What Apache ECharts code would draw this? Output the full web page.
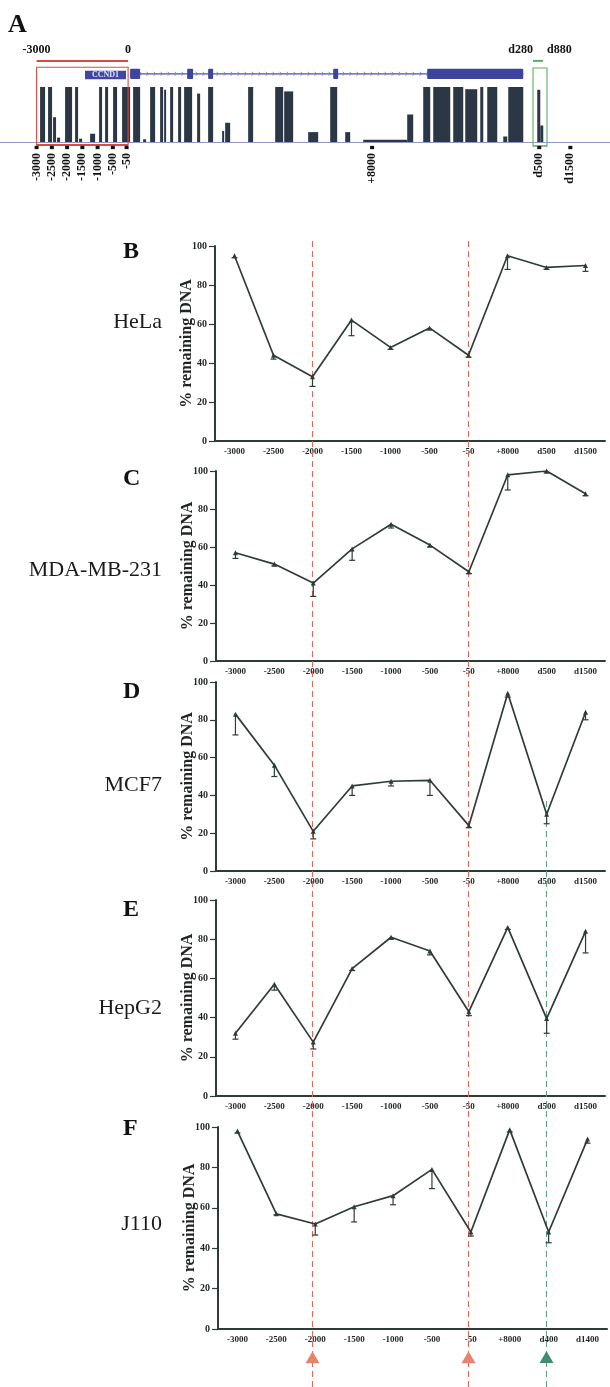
<!DOCTYPE html>
<html><head><meta charset="utf-8">
<script src="https://cdn.jsdelivr.net/npm/echarts@6/dist/echarts.min.js"></script>
<style>html,body{margin:0;padding:0;background:#fff}#c{width:610px;height:1387px}</style>
</head><body><div id="c"></div>
<script>
// ---------- Data: panels B–F ----------
const categories  = ['-3000','-2500','-2000','-1500','-1000','-500','-50','+8000','d500','d1500'];
const categoriesF = ['-3000','-2500','-2000','-1500','-1000','-500','-50','+8000','d400','d1400'];
const yTickValues = [0, 20, 40, 60, 80, 100];

const helaValues  = [95, 44, 33, 62, 48, 58, 44, 95, 89, 90];
const helaLower   = [94, 42, 28, 54, 47, 57, 43, 88, 88, 87];
const mdaValues   = [57, 51, 41, 59, 72, 61, 47, 98, 100, 88];
const mdaLower    = [54, 50, 34, 53, 70, 60, 46, 90, 99, 87];
const mcf7Values  = [83, 56, 21, 45, 47.5, 48, 24, 94, 30, 84];
const mcf7Lower   = [72, 50, 17, 40, 45, 40, 23, 92, 25, 80];
const hepg2Values = [32, 57, 27.5, 65, 81, 74, 43, 86, 39.5, 84];
const hepg2Lower  = [29, 54, 24, 64, 80, 72, 41, 85, 32, 73];
const j110Values  = [98, 57, 52, 60.5, 66, 79, 48, 98.7, 48, 94];
const j110Lower   = [97, 56.5, 46.5, 53, 61.5, 69.5, 46, 97.5, 42.7, 92];

const panelLetters = ['B', 'C', 'D', 'E', 'F'];
const cellLines    = ['HeLa', 'MDA-MB-231', 'MCF7', 'HepG2', 'J110'];
const redMarkedCats   = ['-2000', '-50'];
const greenMarkedCats = ['d500'];

// ---------- Data: panel A (positions in bp relative to TSS) ----------
// conservation blocks: [start bp, end bp, conservation %]
const consBars = [
  [-2886,-2722,100],[-2624,-2493,100],[-2460,-2362,45],[-2329,-2230,8],
  [-2066,-1837,100],[-1738,-1640,100],[-1607,-1509,6],[-1246,-1082,15],
  [-951,-853,100],[-754,-656,100],[-492,-361,100],[-197,66,100],
  [164,394,100],[492,590,5],[722,886,100],[1050,1148,100],[1181,1246,95],
  [1378,1476,100],[1640,1738,100],[1837,2099,100],[2263,2362,88],
  [2624,2788,100],[3083,3149,20],[3182,3346,35],[3936,4100,100],
  [4822,5084,100],[5117,5412,92],[5904,6232,18],[6626,6855,100],
  [7118,7282,18],[7708,9151,4],[9151,9348,50],[9676,9906,100],
  [10004,10562,100],[10660,10988,100],[11054,11447,96],[11546,11644,100],
  [11775,12103,100],[12300,12431,10],[12464,12956,100],
  [13415,13514,95],[13514,13612,30]
];
const geneSpan  = [66, 12956];
const geneExons = [[66,394],[1935,2132],[2624,2788],[6724,6888],[9807,12956]];
const geneName  = 'CCND1';
const geneLabelRange = [-1413, -69];
const regions = [[-3000, 0], [13276, 13735]];
const regionLabels = [[-3000,'-3000'],[0,'0'],[13276,'d280'],[13735,'d880']];
const trackTicks = [[-3000,'-3000'],[-2500,'-2500'],[-2000,'-2000'],[-1500,'-1500'],
  [-1000,'-1000'],[-500,'-500'],[-50,'-50'],[8000,'+8000'],[13480,'d500'],[14500,'d1500']];

// ---------- styles ----------
const SERIF = 'Liberation Serif, Times New Roman, serif';
const INK = '#2e3c37';
const RED = '#dc4b42', GREEN = '#5cae5f';
const regionColors = [RED, GREEN];

const panels = [
  {vals: helaValues,  low: helaLower,  cats: categories,  left: 215, top: 246, width: 390, height: 195},
  {vals: mdaValues,   low: mdaLower,   cats: categories,  left: 216, top: 471, width: 389, height: 190},
  {vals: mcf7Values,  low: mcf7Lower,  cats: categories,  left: 216, top: 682, width: 389, height: 189},
  {vals: hepg2Values, low: hepg2Lower, cats: categories,  left: 216, top: 900, width: 389, height: 196},
  {vals: j110Values,  low: j110Lower,  cats: categoriesF, left: 218, top: 1127, width: 389, height: 202}
];

const grid = [], xAxis = [], yAxis = [], series = [], graphic = [];

// ---------- Panel A ----------
grid.push({left: 0, width: 610, top: 51.25, height: 134.75});
xAxis.push({type: 'value', gridIndex: 0, min: -4200, max: 15800, axisLabel: {show: false},
  axisTick: {show: false}, splitLine: {show: false},
  axisLine: {show: true, onZero: true, lineStyle: {color: '#9097c4', width: 1}}});
yAxis.push({type: 'value', gridIndex: 0, min: -80, max: 165, show: false, splitLine: {show: false}});

series.push({ // conservation track
  type: 'custom', xAxisIndex: 0, yAxisIndex: 0, clip: false, data: consBars,
  encode: {x: [0, 1], y: 2},
  renderItem: (p, api) => {
    const a = api.coord([api.value(0), api.value(2)]);
    const b = api.coord([api.value(1), 0]);
    return {type: 'rect', shape: {x: a[0], y: a[1], width: Math.max(1, b[0] - a[0]), height: b[1] - a[1]},
      style: {fill: '#2c3745'}};
  }
});
series.push({ // intron line with chevrons
  type: 'custom', xAxisIndex: 0, yAxisIndex: 0, clip: false, data: [geneSpan],
  renderItem: (p, api) => {
    const a = api.coord([api.value(0), 124]);
    const b = api.coord([api.value(1), 124]);
    const ch = [{type: 'line', shape: {x1: a[0], y1: a[1], x2: b[0], y2: b[1]}, style: {stroke: '#4b52aa', lineWidth: 1.3}}];
    for (let x = a[0] + 4; x < b[0] - 2; x += 7) {
      ch.push({type: 'polyline', shape: {points: [[x - 1.5, a[1] - 2], [x + 0.5, a[1]], [x - 1.5, a[1] + 2]]},
        style: {stroke: '#6a70c0', lineWidth: 0.8, fill: null}});
    }
    return {type: 'group', children: ch};
  }
});
series.push({ // exons
  type: 'custom', xAxisIndex: 0, yAxisIndex: 0, clip: false, data: geneExons,
  encode: {x: [0, 1]},
  renderItem: (p, api) => {
    const a = api.coord([api.value(0), 133]);
    const b = api.coord([api.value(1), 114.5]);
    return {type: 'rect', shape: {x: a[0], y: a[1], width: Math.max(2, b[0] - a[0]), height: b[1] - a[1], r: 1},
      style: {fill: '#3d449e'}};
  }
});
series.push({ // gene name label
  type: 'custom', xAxisIndex: 0, yAxisIndex: 0, clip: false, data: [geneLabelRange],
  renderItem: (p, api) => {
    const a = api.coord([api.value(0), 129.5]);
    const b = api.coord([api.value(1), 114]);
    return {type: 'group', children: [
      {type: 'rect', shape: {x: a[0], y: a[1], width: b[0] - a[0], height: b[1] - a[1]}, style: {fill: '#3f46a3'}},
      {type: 'text', x: (a[0] + b[0]) / 2, y: (a[1] + b[1]) / 2,
        style: {text: geneName, font: 'bold 8px ' + SERIF, fill: '#dfe2f7', align: 'center', verticalAlign: 'middle'}}
    ]};
  }
});
series.push({ // highlighted regions
  type: 'custom', xAxisIndex: 0, yAxisIndex: 0, clip: false, data: regions,
  encode: {x: [0, 1]},
  renderItem: (p, api) => {
    const c = regionColors[p.dataIndex];
    const isRed = p.dataIndex === 0;
    const a = api.coord([api.value(0), isRed ? 136 : 134.5]);
    const b = api.coord([api.value(1), isRed ? -5.5 : -7.3]);
    const topA = api.coord([api.value(0), 147.5]);
    const topB = api.coord([isRed ? api.value(1) : api.value(1) - 130, 147.5]);
    return {type: 'group', children: [
      {type: 'rect', shape: {x: a[0], y: a[1], width: b[0] - a[0], height: b[1] - a[1]},
        style: {fill: null, stroke: c, lineWidth: 1.1}},
      {type: 'line', shape: {x1: a[0], y1: b[1], x2: b[0], y2: b[1]}, style: {stroke: c, lineWidth: isRed ? 2 : 1.1}},
      {type: 'line', shape: {x1: topA[0], y1: topA[1], x2: topB[0], y2: topB[1]}, style: {stroke: c, lineWidth: 2}}
    ]};
  }
});
series.push({ // region labels
  type: 'custom', xAxisIndex: 0, yAxisIndex: 0, clip: false, data: regionLabels.map(d => [d[0]]),
  renderItem: (p, api) => {
    const aligns = ['center', 'center', 'right', 'left'];
    const pt = api.coord([api.value(0), 157]);
    return {type: 'text', x: pt[0], y: pt[1],
      style: {text: regionLabels[p.dataIndex][1], font: 'bold 12px ' + SERIF, fill: '#111',
        align: aligns[p.dataIndex], verticalAlign: 'bottom'}};
  }
});
series.push({ // primer ticks and labels
  type: 'custom', xAxisIndex: 0, yAxisIndex: 0, clip: false, data: trackTicks.map(d => [d[0]]),
  renderItem: (p, api) => {
    const a = api.coord([api.value(0), -7]);
    const b = api.coord([api.value(0), -13]);
    const t = api.coord([api.value(0), -20]);
    return {type: 'group', children: [
      {type: 'rect', shape: {x: a[0] - 2, y: a[1], width: 4, height: b[1] - a[1]}, style: {fill: '#111'}},
      {type: 'text', x: t[0], y: t[1], rotation: Math.PI / 2,
        style: {text: trackTicks[p.dataIndex][1], font: 'bold 12px ' + SERIF, fill: '#111',
          align: 'right', verticalAlign: 'middle'}}
    ]};
  }
});
graphic.push({type: 'text', left: 8, top: 12, style: {text: 'A', font: 'bold 26px ' + SERIF, fill: '#111'}});

// ---------- Panels B–F ----------
const nameCenters = [322, 570, 785, 1008, 1224];
const letterTops = [240, 467, 680, 898, 1117];
panels.forEach((pn, i) => {
  const gi = i + 1;
  grid.push({left: pn.left, top: pn.top, width: pn.width, height: pn.height});
  xAxis.push({type: 'category', gridIndex: gi, data: pn.cats, boundaryGap: true,
    axisLine: {lineStyle: {color: INK, width: 2}}, axisTick: {show: false},
    axisLabel: {interval: 0, margin: 6, color: '#1e2622', fontFamily: SERIF, fontWeight: 'bold', fontSize: 9},
    splitLine: {show: false}});
  yAxis.push({type: 'value', gridIndex: gi, min: 0, max: 100, interval: 20,
    axisLine: {show: true, lineStyle: {color: INK, width: 2}},
    axisTick: {show: true, length: 6, lineStyle: {color: INK, width: 1.2}},
    axisLabel: {margin: 8, color: '#1e2622', fontFamily: SERIF, fontWeight: 'bold', fontSize: 10,
      customValues: yTickValues},
    splitLine: {show: false},
    name: '% remaining DNA', nameLocation: 'middle', nameGap: 20, nameRotate: 90, nameMoveOverlap: false,
    nameTextStyle: {fontFamily: SERIF, fontWeight: 'bold', fontSize: 16, color: '#1e2622'}});
  series.push({type: 'line', xAxisIndex: gi, yAxisIndex: gi, data: pn.vals,
    symbol: 'triangle', symbolSize: 5, z: 4,
    lineStyle: {color: INK, width: 1.7}, itemStyle: {color: INK}});
  series.push({type: 'custom', xAxisIndex: gi, yAxisIndex: gi, z: 3,
    data: pn.vals.map((v, k) => [k, v, pn.low[k]]),
    renderItem: (p, api) => {
      const a = api.coord([api.value(0), api.value(1)]);
      const b = api.coord([api.value(0), api.value(2)]);
      return {type: 'group', children: [
        {type: 'line', shape: {x1: a[0], y1: a[1], x2: b[0], y2: b[1]}, style: {stroke: INK, lineWidth: 1.2}},
        {type: 'line', shape: {x1: b[0] - 3, y1: b[1], x2: b[0] + 3, y2: b[1]}, style: {stroke: INK, lineWidth: 1.2}}
      ]};
    }});
  graphic.push({type: 'text', left: 123, top: letterTops[i],
    style: {text: panelLetters[i], font: 'bold 24px ' + SERIF, fill: '#111'}});
  graphic.push({type: 'text', x: 162, y: nameCenters[i],
    style: {text: cellLines[i], font: '22px ' + SERIF, fill: '#1a1a1a', align: 'right', verticalAlign: 'middle'}});
});

// ---------- Overlay: dashed guide lines and arrows ----------
grid.push({left: 215, top: 240, width: 390, bottom: 0});
xAxis.push({type: 'category', gridIndex: 6, data: categories, show: false});
yAxis.push({type: 'value', gridIndex: 6, min: 0, max: 100, show: false, splitLine: {show: false}});
grid.push({left: 215, top: 800, width: 390, bottom: 0});
xAxis.push({type: 'category', gridIndex: 7, data: categories, show: false});
yAxis.push({type: 'value', gridIndex: 7, min: 0, max: 100, show: false, splitLine: {show: false}});

series.push({type: 'scatter', xAxisIndex: 6, yAxisIndex: 6, z: 6,
  data: redMarkedCats.map(c => [categories.indexOf(c), 2.6]),
  symbol: 'triangle', symbolSize: [14, 12], itemStyle: {color: '#e9816f', opacity: 1},
  markLine: {silent: true, symbol: 'none', label: {show: false}, z: 2,
    lineStyle: {color: '#e0685a', type: [6, 4], width: 1.1},
    data: redMarkedCats.map(c => ({xAxis: categories.indexOf(c)}))}});
series.push({type: 'scatter', xAxisIndex: 7, yAxisIndex: 7, z: 6,
  data: greenMarkedCats.map(c => [categories.indexOf(c), 5.1]),
  symbol: 'triangle', symbolSize: [14, 12], itemStyle: {color: '#3f8f6d', opacity: 1},
  markLine: {silent: true, symbol: 'none', label: {show: false}, z: 2,
    lineStyle: {color: '#5f9f80', type: [6, 4], width: 1.1},
    data: greenMarkedCats.map(c => ({xAxis: categories.indexOf(c)}))}});

const chart = echarts.init(document.getElementById('c'), null, {renderer: 'canvas'});
chart.setOption({backgroundColor: '#fff', animation: false, grid, xAxis, yAxis, series, graphic});
</script>
</body></html>
